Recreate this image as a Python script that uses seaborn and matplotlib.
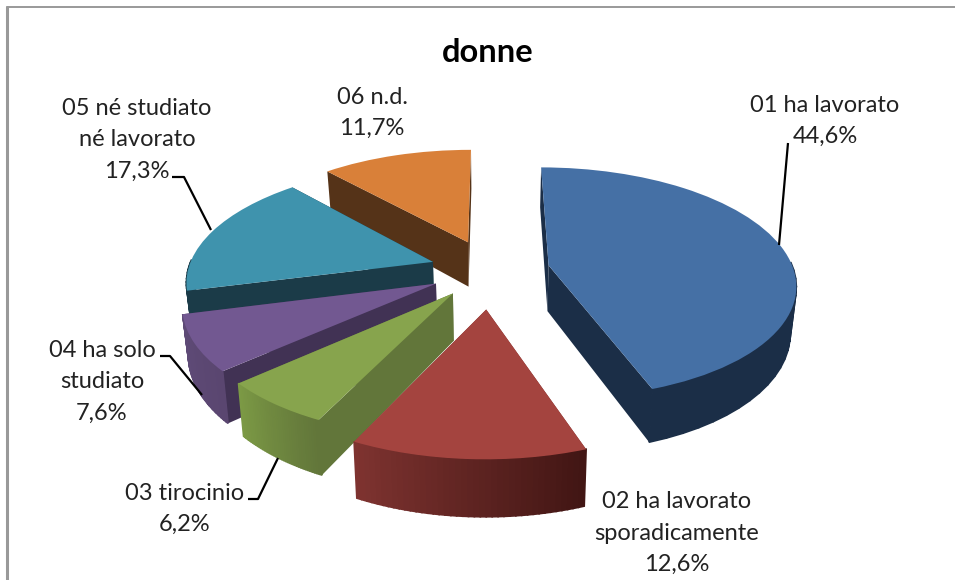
# Pie "donne": exploded 3D-look pie, drawn with ax.pie and a perspective transform
import numpy as np
import seaborn as sns
import matplotlib.pyplot as plt
from matplotlib.transforms import Transform

categories = ['01 ha lavorato', '02 ha lavorato\nsporadicamente', '03 tirocinio',
              '04 ha solo\nstudiato', '05 né studiato\nné lavorato', '06 n.d.']
values = [44.6, 12.6, 6.2, 7.6, 17.3, 11.7]

top_colors = ['#4570A5', '#A4443F', '#87A44D', '#725891', '#3F93AD', '#D98039']
cut_colors = ['#1B2E47', '#7E3330', '#62763A', '#413254', '#1B3B48', '#553318']
arc_left = ['#1B2E47', '#7E3330', '#7C9A45', '#5F4B78', '#1B3B48', '#553318']
arc_right = ['#1B2E47', '#421614', '#62763A', '#5A4670', '#1B3B48', '#553318']

explode = [0.24, 0.33, 0.25, 0.25, 0.25, 0.27]
draw_order = [5, 0, 4, 3, 2, 1]

# perspective of the pie plane, in pixels
CX, CY = 491, 270
A, B, K = 245, 114, 0.15
DEPTH = 46
SHRINK = 0.98


def project(x, y, z=0.0):
    w = 1 + K * np.asarray(y)
    sx = A * np.asarray(x) / w
    sy = B * np.asarray(y) / w
    s = SHRINK if z else 1.0
    return CX + s * sx, CY - sy + z * DEPTH / w


class PiePlane(Transform):
    input_dims = 2
    output_dims = 2

    def transform_non_affine(self, values):
        values = np.asarray(values)
        return np.column_stack(project(values[:, 0], values[:, 1]))


sns.set_theme(style='white')
plt.rcParams['font.family'] = ['Lato', 'DejaVu Sans']

fig = plt.figure(figsize=(9.55, 5.8), dpi=100)
ax = fig.add_axes([0, 0, 1, 1])

wedges, _ = ax.pie(values, explode=explode, colors=top_colors, startangle=90,
                   counterclock=False, radius=1, wedgeprops={'linewidth': 0})
ax.set_aspect('auto')
ax.set_xlim(0, 955)
ax.set_ylim(580, 0)
ax.axis('off')

plane = PiePlane() + ax.transData
for rank, i in enumerate(draw_order):
    wedge = wedges[i]
    base = 10 * (rank + 1)
    wedge.set_transform(plane)
    wedge.set_zorder(base + 5)
    cx, cy = wedge.center
    t = np.radians(np.linspace(wedge.theta1, wedge.theta2, 41))
    ex, ey = cx + np.cos(t), cy + np.sin(t)

    # the two cut faces
    for px, py in [(ex[0], ey[0]), (ex[-1], ey[-1])]:
        x0, y0 = project(np.array([cx, px]), np.array([cy, py]))
        x1, y1 = project(np.array([cx, px]), np.array([cy, py]), 1)
        ax.fill([x0[0], x0[1], x1[1], x1[0]], [y0[0], y0[1], y1[1], y1[0]],
                color=cut_colors[i], lw=0, zorder=base)

    # outer rim, shaded left to right, only the part that faces the viewer
    shades = sns.blend_palette([arc_left[i], arc_right[i]], 40)
    x0, y0 = project(ex, ey)
    x1, y1 = project(ex, ey, 1)
    for j, shade in enumerate(shades):
        if np.sin(t[j]) > 0 and np.sin(t[j + 1]) > 0:
            continue
        ax.fill([x0[j], x0[j + 1], x1[j + 1], x1[j]], [y0[j], y0[j + 1], y1[j + 1], y1[j]],
                color=shade, lw=1.2, zorder=base + 1)

# labels
label_pos = [(825, 121), (677, 533), (185, 509), (102, 382), (137, 140), (372, 113)]
for name, v, (lx, ly) in zip(categories, values, label_pos):
    txt = name + '\n' + f'{v:.1f}%'.replace('.', ',')
    ax.text(lx, ly, txt, ha='center', va='center', fontsize=17, color='#222222',
            linespacing=1.6, zorder=200)

# leader lines
leaders = [
    ([788, 779], [143, 245]),
    ([248, 258, 278], [499, 499, 458]),
    ([160, 170, 202], [356, 356, 395]),
    ([172, 184, 211], [177, 177, 230]),
]
for lx, ly in leaders:
    ax.plot(lx, ly, color='black', lw=1.6, zorder=150, solid_capstyle='butt')

ax.text(487.5, 53, 'donne', ha='center', va='center', fontsize=23.5, fontweight='bold',
        color='black', zorder=200)

# chart frame, only top and left are on the picture
ax.plot([7, 7], [580, 6.5], color='#999999', lw=2.2, zorder=300)
ax.plot([7, 955], [6.5, 6.5], color='#999999', lw=1.4, zorder=300)

fig.savefig('out.png', dpi=100)
